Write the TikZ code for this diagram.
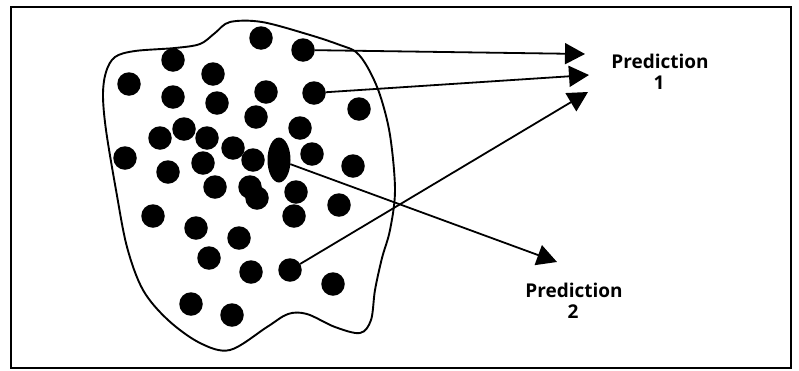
\documentclass[tikz,border=0pt]{standalone}
\usepackage{fontspec}
\setmainfont{Open Sans}
\usetikzlibrary{arrows.meta,shapes.geometric}
\tikzset{
  ball/.style={circle,fill=black,minimum size=23.5pt,inner sep=0pt,outer sep=0pt},
  bigball/.style={ellipse,fill=black,minimum width=23pt,minimum height=45pt,inner sep=0pt,outer sep=0pt},
  arr/.style={line width=1.8pt,-{Triangle[length=20pt,width=21pt]}},
  blob/.style={line width=1.9pt},
  frame/.style={line width=1.6pt},
  lbl/.style={anchor=base,inner sep=0pt,font=\fontsize{19}{20}\selectfont\bfseries}
}
\begin{document}
\begin{tikzpicture}[x=1pt,y=-1pt]
\useasboundingbox (0,0) rectangle (799,370);
\fill[white] (0,0) rectangle (799,370);
\draw[frame] (11,7) rectangle (791,368);
% blob
\draw[blob] plot[smooth cycle,tension=0.55] coordinates {
 (230,22) (262,22) (310,35) (340,45) (356,52) (368,68) (380,95) (390,135)
 (395,190) (390,230) (382,258) (375,290) (371,320) (360,333) (335,327)
 (307,314) (288,314) (267,327) (230,350) (200,343) (168,320) (143,290)
 (127,247) (116,190) (106,130) (103,95) (106,72) (115,57) (135,51)
 (175,48) (200,44) (215,33)};
% dots
\foreach \n/\x/\y in {1/261/38,2/303/50,3/173/60,4/213/74,5/129/84,6/266/92,
 7/314/93,8/173/97,9/217/103,10/359/109,11/256/117,12/300/128,13/184/129,
 14/160/138,15/207/138,16/233/148,17/125/158,18/312/154,19/353/166,
 20/253/160,21/203/163,22/168/172,23/215/187,24/250/187,25/257/198,
 26/296/192,27/339/205,28/153/216,29/294/216,30/196/228,31/239/238,
 32/209/258,33/251/272,34/290/270,35/333/284,36/191/304,37/232/315}
 \node[ball] (d\n) at (\x,\y) {};
\node[bigball] (el) at (279,160) {};
% arrow tips
\coordinate (t1) at (585,54);
\coordinate (t2) at (589,75);
\coordinate (t3) at (588,92);
\coordinate (t4) at (557,262);
\draw[arr] (d2) -- (t1);
\draw[arr] (d7) -- (t2);
\draw[arr] (d34) -- (t3);
\draw[arr] (el) -- (t4);
% labels
\node[lbl] (p1a) at (660,68) {Prediction};
\node[lbl] (p1b) at (659,89) {1};
\node[lbl] (p2a) at (574,297) {Prediction};
\node[lbl] (p2b) at (573,318) {2};
\end{tikzpicture}
\end{document}
